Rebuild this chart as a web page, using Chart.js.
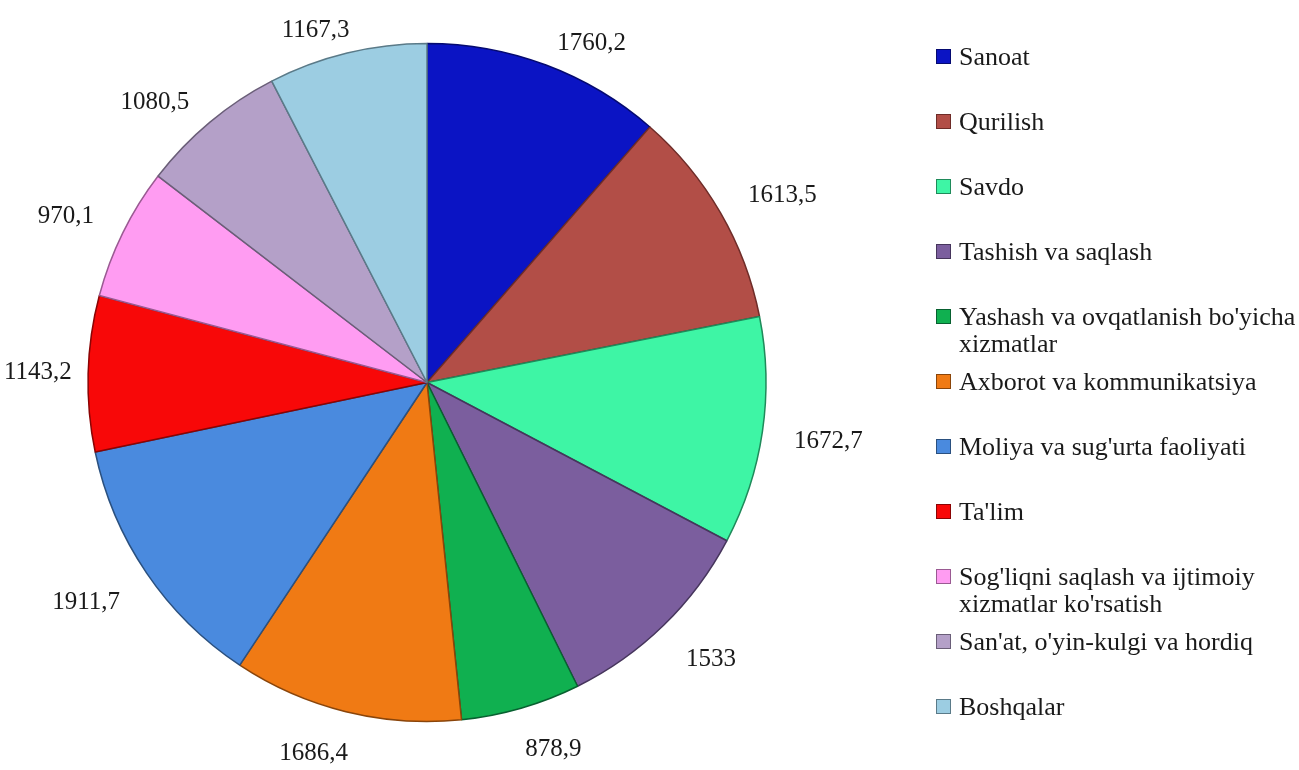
<!DOCTYPE html>
<html>
<head>
<meta charset="utf-8">
<script src="https://cdn.jsdelivr.net/npm/chart.js@4.4.0/dist/chart.umd.min.js"></script>
<style>
  body { margin: 0; background: #fff; }
  #wrap { position: relative; width: 1299px; height: 770px; overflow: hidden; }
  #legend { position: absolute; left: 936px; top: 43px; font-family: 'Liberation Serif', serif; font-size: 26px; color: #1a1a1a; }
  .item { position: relative; height: 65px; }
  .box { position: absolute; left: 0; top: 6px; width: 15px; height: 15px; box-sizing: border-box; }
  .txt { position: absolute; left: 23px; top: 0; width: 342px; line-height: 27px; }
</style>
</head>
<body>
<div id="wrap">
  <canvas id="myChart" width="1299" height="770"></canvas>
  <div id="legend"></div>
</div>
<script>
// categories and values
const categories = ["Sanoat", "Qurilish", "Savdo", "Tashish va saqlash",
  "Yashash va ovqatlanish bo'yicha xizmatlar", "Axborot va kommunikatsiya",
  "Moliya va sug'urta faoliyati", "Ta'lim",
  "Sog'liqni saqlash va ijtimoiy xizmatlar ko'rsatish",
  "San'at, o'yin-kulgi va hordiq", "Boshqalar"];
const values = [1760.2, 1613.5, 1672.7, 1533, 878.9, 1686.4, 1911.7, 1143.2, 970.1, 1080.5, 1167.3];
const valueLabels = ["1760,2", "1613,5", "1672,7", "1533", "878,9", "1686,4", "1911,7", "1143,2", "970,1", "1080,5", "1167,3"];

const colors = ["#0B14C4", "#B24E47", "#3EF5A5", "#7B5E9E", "#10B050", "#F07A14",
  "#4A8ADE", "#F80808", "#FF9CF2", "#B4A0C8", "#9CCDE2"];
const borders = ["#050a70", "#6e2c28", "#1f8a5a", "#46355c", "#086030", "#8a450a",
  "#2a507f", "#8a0404", "#9a5a92", "#6a5e78", "#5a7a88"];

// value labels outside the slices (box placed next to an anchor on the ray)
const outLabels = {
  id: 'outLabels',
  afterDatasetsDraw(chart) {
    const ctx = chart.ctx;
    const meta = chart.getDatasetMeta(0);
    ctx.save();
    ctx.font = "25px 'Liberation Serif'";
    ctx.fillStyle = "#1a1a1a";
    ctx.textAlign = "center";
    ctx.textBaseline = "middle";
    meta.data.forEach(function(arc, i) {
      const mid = (arc.startAngle + arc.endAngle) / 2;
      const c = Math.cos(mid), s = Math.sin(mid);
      const w = ctx.measureText(valueLabels[i]).width;
      const h = 25;
      const r = arc.outerRadius + 10;
      let x = arc.x + c * r + Math.sign(c) * Math.min(1, 3 * Math.abs(c)) * w / 2 + c * 22;
      let y = arc.y + s * r + Math.sign(s) * Math.min(1, 3 * Math.abs(s)) * h / 2 + (s > 0 ? s * 20 : 0);
      x = Math.max(x, w / 2 + 4);
      ctx.fillText(valueLabels[i], x, y);
    });
    ctx.restore();
  }
};

const ctx = document.getElementById("myChart").getContext("2d");
const myChart = new Chart(ctx, {
  type: 'pie',
  data: {
    labels: categories,
    datasets: [{
      data: values,
      backgroundColor: colors,
      borderColor: borders,
      borderWidth: 1.5
    }]
  },
  options: {
    responsive: false,
    animation: false,
    radius: 339,
    layout: { padding: { left: 88, right: 533, top: 43.5, bottom: 48.5 } },
    plugins: {
      legend: { display: false },
      tooltip: { enabled: false }
    }
  },
  plugins: [outLabels]
});

// legend on the right
const legend = document.getElementById("legend");
categories.forEach(function(name, i) {
  const item = document.createElement("div");
  item.className = "item";
  item.innerHTML = '<div class="box" style="background:' + colors[i] + ';border:1px solid ' + borders[i] + '"></div>' +
    '<div class="txt"></div>';
  item.querySelector(".txt").textContent = name;
  legend.appendChild(item);
});
</script>
</body>
</html>
